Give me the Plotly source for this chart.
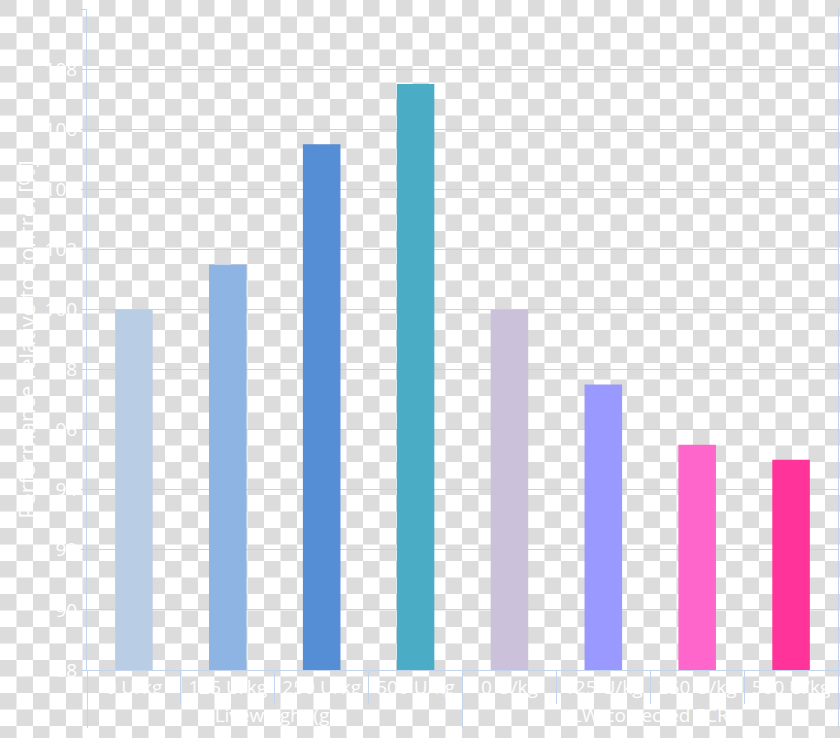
import base64
import plotly.graph_objects as go

groups = ["Liveweight (g)"] * 4 + ["LW-corrected FCR"] * 4
doses = ["0 U/kg", "125 U/kg", "250 U/kg", "500 U/kg",
         "0 U/kg", "125 U/kg", "250 U/kg", "500 U/kg"]
performance = [100.0, 101.5, 105.5, 107.5, 100.0, 97.5, 95.5, 95.0]
bar_colors = ["#b9cde5", "#8eb4e3", "#558ed5", "#4bacc6",
              "#ccc1da", "#9999ff", "#ff66cc", "#ff3399"]
y_ticks = list(range(88, 111, 2))

W, H = 840, 738
L, R, T, B = 87, 2, 9, 68
pw, ph = W - L - R, H - T - B

# transparent-background checkerboard, as in the reference screenshot
svg = (
    f'<svg xmlns="http://www.w3.org/2000/svg" width="{W}" height="{H}">'
    '<defs><pattern id="c" width="33" height="33" patternUnits="userSpaceOnUse">'
    '<rect width="33" height="33" fill="#ffffff"/>'
    '<rect width="16.5" height="16.5" fill="#dcdcdc"/>'
    '<rect x="16.5" y="16.5" width="16.5" height="16.5" fill="#dcdcdc"/>'
    '</pattern></defs>'
    f'<rect width="{W}" height="{H}" fill="url(#c)"/></svg>'
)
checker = "data:image/svg+xml;base64," + base64.b64encode(svg.encode()).decode()

line_col = "#c3d5ee"
font = dict(family="Open Sans", size=19, color="#ffffff")
title_font = dict(family="Open Sans", size=22, color="#ffffff")

fig = go.Figure(go.Bar(
    x=[groups, doses],
    y=performance,
    marker=dict(color=bar_colors, line=dict(width=0)),
    width=0.4,
))

fig.update_layout(
    width=W, height=H,
    margin=dict(l=L, r=R, t=T, b=B, pad=0, autoexpand=False),
    paper_bgcolor="rgba(0,0,0,0)",
    plot_bgcolor="rgba(0,0,0,0)",
    font=font,
    showlegend=False,
    images=[dict(
        source=checker, xref="paper", yref="paper",
        x=-L / pw, y=1 + T / ph, sizex=W / pw, sizey=H / ph,
        xanchor="left", yanchor="top", sizing="stretch", layer="below",
    )],
)

fig.update_yaxes(
    range=[88, 110], tickvals=y_ticks, automargin=False,
    showgrid=True, gridcolor=line_col, gridwidth=1,
    showline=True, linecolor=line_col, linewidth=1, mirror=True,
    ticks="outside", ticklen=5, tickcolor=line_col,
    tickfont=font, zeroline=False,
    title=dict(text="Performance relative to control [%]", font=title_font, standoff=2),
)
fig.update_xaxes(
    type="multicategory", automargin=False,
    showline=True, linecolor=line_col, linewidth=1,
    ticks="outside", ticklen=33, tickcolor=line_col,
    showdividers=True, dividercolor=line_col, dividerwidth=1,
    tickfont=font, showgrid=False,
)

# drop the page's default body margin so the figure sits at the window corner
fig.write_html(
    "out.html",
    config={"displayModeBar": False},
    post_script="document.body.style.margin='0';",
)
